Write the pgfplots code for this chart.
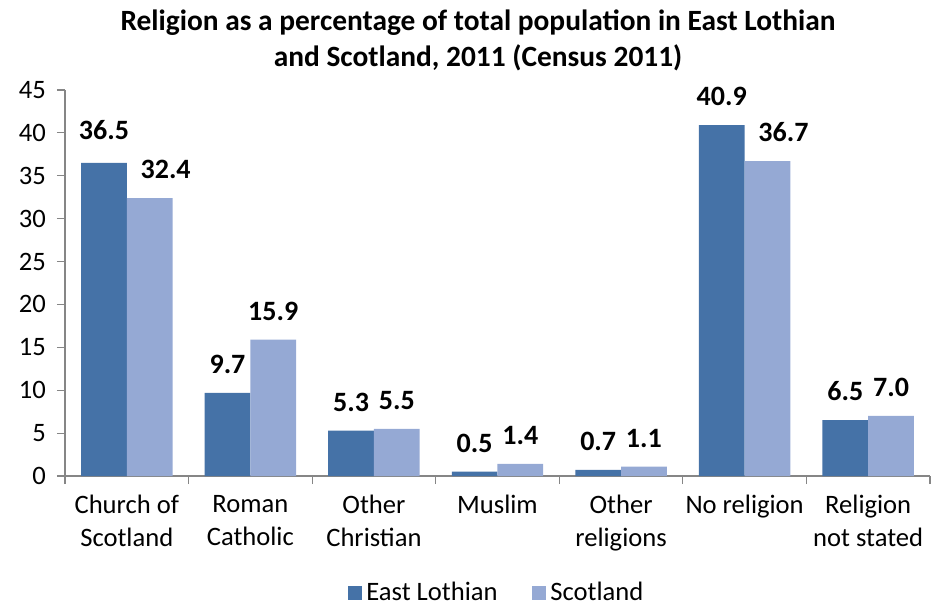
\documentclass[border=0pt]{standalone}
\usepackage{pgfplots}
\usepackage{pgfplotstable}
\pgfplotsset{compat=1.18}
\usepackage{fontspec}
\setmainfont{Carlito}
\definecolor{dk}{RGB}{69,114,167}
\definecolor{lt}{RGB}{149,169,212}
\definecolor{ax}{RGB}{134,134,134}
\pgfplotstableread{
x y dx dy
0 36.5 0 2
1 9.7 0 0
2 5.3 0 0
3 0.5 0 0
4 0.7 0 0
5 40.9 0 0
6 6.5 0 0
}\eastl
\pgfplotstableread{
x y dx dy
0 32.4 8 0
1 15.9 0 0
2 5.5 0 0
3 1.4 0 0
4 1.1 0 0
5 36.7 8 0
6 7.0 0 0
}\scot
\begin{document}
\begin{tikzpicture}
\begin{axis}[
  at={(0,0)}, anchor=south west,
  scale only axis, width=432.5pt, height=193pt,
  xmin=-0.5, xmax=6.5, ymin=0, ymax=45,
  ybar, ybar=0pt, bar width=0.37,
  axis lines*=left,
  axis line style={ax, line width=0.6pt},
  xtick={0,...,6},
  xticklabels={{Church of\\Scotland},{Roman\\Catholic},{Other\\Christian},Muslim,{Other\\religions},No religion,{Religion\\not stated}},
  xticklabel style={align=center, font=\fontsize{13.3}{16.5}\selectfont, yshift=-2pt},
  major x tick style={draw=none},
  minor xtick={-0.5,0.5,...,6.5},
  minor x tick style={ax, line width=0.6pt},
  ytick={0,5,...,45},
  yticklabel style={font=\fontsize{13.3}{15}\selectfont, xshift=-2pt},
  y tick style={ax, line width=0.6pt},
  tick align=outside,
  major tick length=4pt, minor tick length=4pt,
  /pgf/number format/assume math mode=true,
  nodes near coords,
  visualization depends on={\thisrow{dx} \as \dx},
  visualization depends on={\thisrow{dy} \as \dy},
  nodes near coords style={font=\bfseries\fontsize{14}{16}\selectfont, text=black, yshift={(6+\dy)*1pt}, xshift={\dx*1pt}},
  every node near coord/.append style={/pgf/number format/.cd, fixed, fixed zerofill, precision=1},
  legend style={at={(0.5,-0.303)}, anchor=center, draw=none, legend columns=2, font=\fontsize{13.3}{15}\selectfont, /tikz/every even column/.append style={column sep=15pt}},
  legend image code/.code={\fill[#1] (0pt,-3.7pt) rectangle (7.4pt,3.7pt);},
]
\addplot[fill=dk, draw=none] table[x=x, y=y] {\eastl};
\addplot[fill=lt, draw=none] table[x=x, y=y] {\scot};
\legend{East Lothian, Scotland}
\end{axis}
\node[font=\bfseries\fontsize{14.7}{18}\selectfont, align=center] at (206.5pt,218pt) {Religion as a percentage of total population in East Lothian\\and Scotland, 2011 (Census 2011)};
\pgfresetboundingbox
\path (-32.5pt,-64.5pt) rectangle (433.5pt,238pt);
\end{tikzpicture}
\end{document}
